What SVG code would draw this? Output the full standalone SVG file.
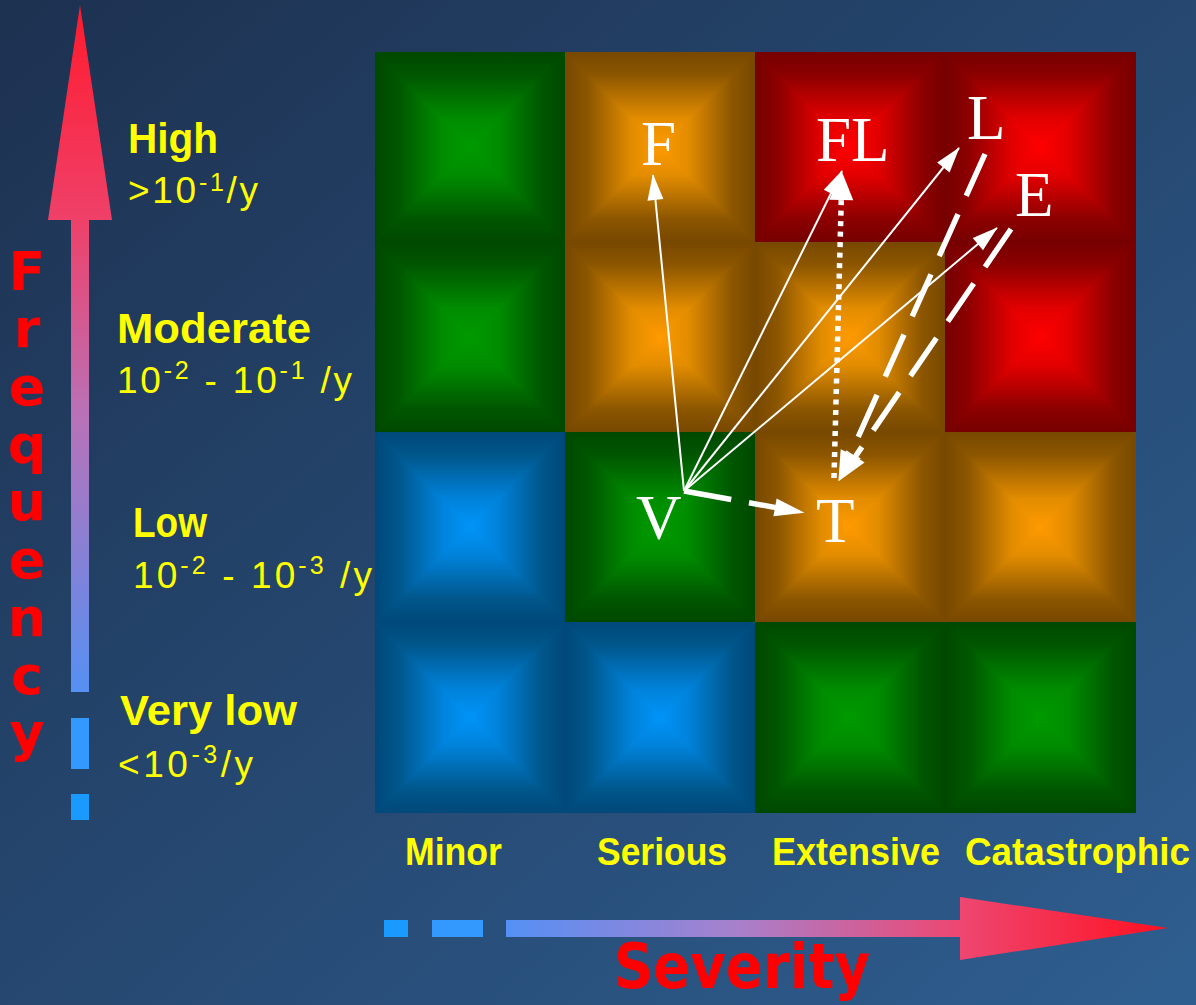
<svg xmlns="http://www.w3.org/2000/svg" width="1196" height="1005" viewBox="0 0 1196 1005">
<defs>
<linearGradient id="bg" x1="0" y1="0" x2="1" y2="1">
<stop offset="0" stop-color="#1d3150"/>
<stop offset="1" stop-color="#2e5e90"/>
</linearGradient>
<linearGradient id="freqG" gradientUnits="userSpaceOnUse" x1="0" y1="5" x2="0" y2="692">
<stop offset="0" stop-color="#ff1a2e"/>
<stop offset="0.31" stop-color="#ef4068"/>
<stop offset="0.6" stop-color="#b872b8"/>
<stop offset="1" stop-color="#5590f2"/>
</linearGradient>
<linearGradient id="sevG" gradientUnits="userSpaceOnUse" x1="506" y1="0" x2="1168" y2="0">
<stop offset="0" stop-color="#5590f5"/>
<stop offset="0.35" stop-color="#a880cc"/>
<stop offset="0.69" stop-color="#ee4670"/>
<stop offset="1" stop-color="#ff1020"/>
</linearGradient>
<linearGradient id="gH" x1="0" y1="0" x2="1" y2="0"><stop offset="0" stop-color="#004800"/><stop offset="0.12" stop-color="#005600"/><stop offset="0.35" stop-color="#008c00"/><stop offset="0.5" stop-color="#009a00"/><stop offset="0.65" stop-color="#008c00"/><stop offset="0.88" stop-color="#005600"/><stop offset="1" stop-color="#004800"/></linearGradient>
<linearGradient id="gV" x1="0" y1="0" x2="0" y2="1"><stop offset="0" stop-color="#004800"/><stop offset="0.12" stop-color="#005600"/><stop offset="0.35" stop-color="#008c00"/><stop offset="0.5" stop-color="#009a00"/><stop offset="0.65" stop-color="#008c00"/><stop offset="0.88" stop-color="#005600"/><stop offset="1" stop-color="#004800"/></linearGradient>
<linearGradient id="oH" x1="0" y1="0" x2="1" y2="0"><stop offset="0" stop-color="#774800"/><stop offset="0.12" stop-color="#8c5600"/><stop offset="0.35" stop-color="#e28c00"/><stop offset="0.5" stop-color="#ff9a00"/><stop offset="0.65" stop-color="#e28c00"/><stop offset="0.88" stop-color="#8c5600"/><stop offset="1" stop-color="#774800"/></linearGradient>
<linearGradient id="oV" x1="0" y1="0" x2="0" y2="1"><stop offset="0" stop-color="#774800"/><stop offset="0.12" stop-color="#8c5600"/><stop offset="0.35" stop-color="#e28c00"/><stop offset="0.5" stop-color="#ff9a00"/><stop offset="0.65" stop-color="#e28c00"/><stop offset="0.88" stop-color="#8c5600"/><stop offset="1" stop-color="#774800"/></linearGradient>
<linearGradient id="rH" x1="0" y1="0" x2="1" y2="0"><stop offset="0" stop-color="#760000"/><stop offset="0.12" stop-color="#8c0000"/><stop offset="0.35" stop-color="#e20000"/><stop offset="0.5" stop-color="#ff0000"/><stop offset="0.65" stop-color="#e20000"/><stop offset="0.88" stop-color="#8c0000"/><stop offset="1" stop-color="#760000"/></linearGradient>
<linearGradient id="rV" x1="0" y1="0" x2="0" y2="1"><stop offset="0" stop-color="#760000"/><stop offset="0.12" stop-color="#8c0000"/><stop offset="0.35" stop-color="#e20000"/><stop offset="0.5" stop-color="#ff0000"/><stop offset="0.65" stop-color="#e20000"/><stop offset="0.88" stop-color="#8c0000"/><stop offset="1" stop-color="#760000"/></linearGradient>
<linearGradient id="bH" x1="0" y1="0" x2="1" y2="0"><stop offset="0" stop-color="#00487a"/><stop offset="0.12" stop-color="#00568a"/><stop offset="0.35" stop-color="#0082da"/><stop offset="0.5" stop-color="#0094f8"/><stop offset="0.65" stop-color="#0082da"/><stop offset="0.88" stop-color="#00568a"/><stop offset="1" stop-color="#00487a"/></linearGradient>
<linearGradient id="bV" x1="0" y1="0" x2="0" y2="1"><stop offset="0" stop-color="#00487a"/><stop offset="0.12" stop-color="#00568a"/><stop offset="0.35" stop-color="#0082da"/><stop offset="0.5" stop-color="#0094f8"/><stop offset="0.65" stop-color="#0082da"/><stop offset="0.88" stop-color="#00568a"/><stop offset="1" stop-color="#00487a"/></linearGradient>
<clipPath id="hg" clipPathUnits="objectBoundingBox">
<polygon points="0,0 1,0 0.5,0.5"/>
<polygon points="0.5,0.5 1,1 0,1"/>
</clipPath>
<marker id="thin" markerUnits="userSpaceOnUse" markerWidth="30" markerHeight="20" refX="25" refY="8" orient="auto" overflow="visible">
<path d="M0,0 L26,8 L0,16 Z" fill="#ffffff"/>
</marker>
<marker id="thick" markerUnits="userSpaceOnUse" markerWidth="34" markerHeight="24" refX="1" refY="0" orient="auto" overflow="visible">
<path d="M0,-9 L30,0 L0,9 Z" fill="#ffffff"/>
</marker>
<marker id="wide" markerUnits="userSpaceOnUse" markerWidth="34" markerHeight="26" refX="1" refY="0" orient="auto" overflow="visible">
<path d="M0,-11 L30,0 L0,11 Z" fill="#ffffff"/>
</marker>
<marker id="dot" markerUnits="userSpaceOnUse" markerWidth="34" markerHeight="28" refX="1" refY="0" orient="auto" overflow="visible">
<path d="M0,-12 L28,0 L0,12 Z" fill="#ffffff"/>
</marker>
</defs>
<style>
.lbl{font-family:"Liberation Sans","DejaVu Sans",sans-serif;fill:#ffff00;}
.hd{font-weight:bold;font-size:42px;}
.num{font-size:37px;}
.sup{font-size:25px;}
.sev{font-family:"Liberation Sans","DejaVu Sans",sans-serif;font-weight:bold;font-size:38px;fill:#ffff00;}
.red{font-family:"DejaVu Sans","Liberation Sans",sans-serif;font-weight:bold;fill:#ff0000;}
.node{font-family:"Liberation Serif","Times New Roman",serif;font-size:63px;fill:#ffffff;}
.ln{fill:none;stroke:#ffffff;}
</style>

<rect width="1196" height="1005" fill="url(#bg)"/>

<!-- Frequency axis -->
<g id="freq-axis">
<polygon points="80,5 112,220 89,220 89,692 71,692 71,220 48,220" fill="url(#freqG)"/>
<rect x="71" y="718" width="18" height="51" fill="#3399ff"/>
<rect x="71" y="794" width="18" height="26" fill="#1a99ff"/>
<g class="red" font-size="54" text-anchor="middle">
<text x="27" y="290">F</text>
<text x="27" y="347">r</text>
<text x="27" y="405">e</text>
<text x="27" y="463">q</text>
<text x="27" y="520">u</text>
<text x="27" y="578">e</text>
<text x="27" y="636">n</text>
<text x="27" y="694">c</text>
<text x="27" y="751">y</text>
</g>
</g>

<!-- Severity axis -->
<g id="sev-axis">
<rect x="384" y="920" width="24" height="17" fill="#1a99ff"/>
<rect x="432" y="920" width="51" height="17" fill="#3399ff"/>
<polygon points="506,920 960,920 960,897 1168,928 960,960 960,937 506,937" fill="url(#sevG)"/>
<text class="red" x="614" y="988" font-size="62" textLength="256" lengthAdjust="spacingAndGlyphs">Severity</text>
</g>

<!-- Frequency labels -->
<g id="freq-labels" class="lbl">
<text class="hd" x="128" y="153" textLength="90" lengthAdjust="spacingAndGlyphs">High</text>
<text class="num" x="128" y="203" font-size="32" textLength="130" lengthAdjust="spacing">&gt;10<tspan class="sup" font-size="21" dy="-12">-1</tspan><tspan dy="12">/y</tspan></text>
<text class="hd" x="117" y="343" textLength="194" lengthAdjust="spacingAndGlyphs">Moderate</text>
<text class="num" x="117" y="393" textLength="235" lengthAdjust="spacing">10<tspan class="sup" dy="-14">-2</tspan><tspan dy="14"> - 10</tspan><tspan class="sup" dy="-14">-1</tspan><tspan dy="14"> /y</tspan></text>
<text class="hd" x="133" y="537" textLength="74" lengthAdjust="spacingAndGlyphs">Low</text>
<text class="num" x="133" y="588" textLength="239" lengthAdjust="spacing">10<tspan class="sup" dy="-14">-2</tspan><tspan dy="14"> - 10</tspan><tspan class="sup" dy="-14">-3</tspan><tspan dy="14"> /y</tspan></text>
<text class="hd" x="120" y="725" textLength="177" lengthAdjust="spacingAndGlyphs">Very low</text>
<text class="num" x="118" y="777" textLength="135" lengthAdjust="spacing">&lt;10<tspan class="sup" dy="-14">-3</tspan><tspan dy="14">/y</tspan></text>
</g>

<!-- Severity labels -->
<g id="sev-labels">
<text class="sev" x="405" y="865" textLength="97" lengthAdjust="spacingAndGlyphs">Minor</text>
<text class="sev" x="597" y="865" textLength="130" lengthAdjust="spacingAndGlyphs">Serious</text>
<text class="sev" x="772" y="865" textLength="168" lengthAdjust="spacingAndGlyphs">Extensive</text>
<text class="sev" x="965" y="865" textLength="225" lengthAdjust="spacingAndGlyphs">Catastrophic</text>
</g>

<!-- Risk matrix cells -->
<g id="matrix">
<g id="c00"><rect x="375" y="52" width="190" height="190" fill="url(#gH)"/><rect x="375" y="52" width="190" height="190" fill="url(#gV)" clip-path="url(#hg)"/></g>
<g id="c01"><rect x="565" y="52" width="190" height="190" fill="url(#oH)"/><rect x="565" y="52" width="190" height="190" fill="url(#oV)" clip-path="url(#hg)"/></g>
<g id="c02"><rect x="755" y="52" width="190" height="190" fill="url(#rH)"/><rect x="755" y="52" width="190" height="190" fill="url(#rV)" clip-path="url(#hg)"/></g>
<g id="c03"><rect x="945" y="52" width="191" height="190" fill="url(#rH)"/><rect x="945" y="52" width="191" height="190" fill="url(#rV)" clip-path="url(#hg)"/></g>
<g id="c10"><rect x="375" y="242" width="190" height="190" fill="url(#gH)"/><rect x="375" y="242" width="190" height="190" fill="url(#gV)" clip-path="url(#hg)"/></g>
<g id="c11"><rect x="565" y="242" width="190" height="190" fill="url(#oH)"/><rect x="565" y="242" width="190" height="190" fill="url(#oV)" clip-path="url(#hg)"/></g>
<g id="c12"><rect x="755" y="242" width="190" height="190" fill="url(#oH)"/><rect x="755" y="242" width="190" height="190" fill="url(#oV)" clip-path="url(#hg)"/></g>
<g id="c13"><rect x="945" y="242" width="191" height="190" fill="url(#rH)"/><rect x="945" y="242" width="191" height="190" fill="url(#rV)" clip-path="url(#hg)"/></g>
<g id="c20"><rect x="375" y="432" width="190" height="190" fill="url(#bH)"/><rect x="375" y="432" width="190" height="190" fill="url(#bV)" clip-path="url(#hg)"/></g>
<g id="c21"><rect x="565" y="432" width="190" height="190" fill="url(#gH)"/><rect x="565" y="432" width="190" height="190" fill="url(#gV)" clip-path="url(#hg)"/></g>
<g id="c22"><rect x="755" y="432" width="190" height="190" fill="url(#oH)"/><rect x="755" y="432" width="190" height="190" fill="url(#oV)" clip-path="url(#hg)"/></g>
<g id="c23"><rect x="945" y="432" width="191" height="190" fill="url(#oH)"/><rect x="945" y="432" width="191" height="190" fill="url(#oV)" clip-path="url(#hg)"/></g>
<g id="c30"><rect x="375" y="622" width="190" height="191" fill="url(#bH)"/><rect x="375" y="622" width="190" height="191" fill="url(#bV)" clip-path="url(#hg)"/></g>
<g id="c31"><rect x="565" y="622" width="190" height="191" fill="url(#bH)"/><rect x="565" y="622" width="190" height="191" fill="url(#bV)" clip-path="url(#hg)"/></g>
<g id="c32"><rect x="755" y="622" width="190" height="191" fill="url(#gH)"/><rect x="755" y="622" width="190" height="191" fill="url(#gV)" clip-path="url(#hg)"/></g>
<g id="c33"><rect x="945" y="622" width="191" height="191" fill="url(#gH)"/><rect x="945" y="622" width="191" height="191" fill="url(#gV)" clip-path="url(#hg)"/></g>
</g>

<!-- Nodes -->
<g id="node-F"><text class="node" x="641" y="165">F</text></g>
<g id="node-FL"><text class="node" x="816" y="161">FL</text></g>
<g id="node-L"><text class="node" x="967" y="139">L</text></g>
<g id="node-E"><text class="node" x="1015" y="216">E</text></g>
<g id="node-V"><text class="node" x="636" y="539">V</text></g>
<g id="node-T"><text class="node" x="816" y="542">T</text></g>

<!-- Connectors -->
<g id="connectors">
<line class="ln" x1="684" y1="491" x2="653" y2="175" stroke-width="2" marker-end="url(#thin)"/>
<line class="ln" x1="684" y1="491" x2="842" y2="171" stroke-width="2" marker-end="url(#thin)"/>
<line class="ln" x1="684" y1="491" x2="959" y2="148" stroke-width="2" marker-end="url(#thin)"/>
<line class="ln" x1="684" y1="491" x2="997" y2="228" stroke-width="2" marker-end="url(#thin)"/>
<line class="ln" x1="684" y1="491" x2="776" y2="507.6" stroke-width="5.5" stroke-dasharray="48 18" marker-end="url(#thick)"/>
<line class="ln" x1="834" y1="478" x2="841.3" y2="199" stroke-width="5.5" stroke-dasharray="5 5.5" marker-end="url(#dot)"/>
<line class="ln" x1="985" y1="154" x2="850.3" y2="454.6" stroke-width="5.5" stroke-dasharray="46 20" marker-end="url(#wide)"/>
<line class="ln" x1="1011" y1="229" x2="854.9" y2="457.2" stroke-width="5.5" stroke-dasharray="46 20" marker-end="url(#wide)"/>
</g>
</svg>
